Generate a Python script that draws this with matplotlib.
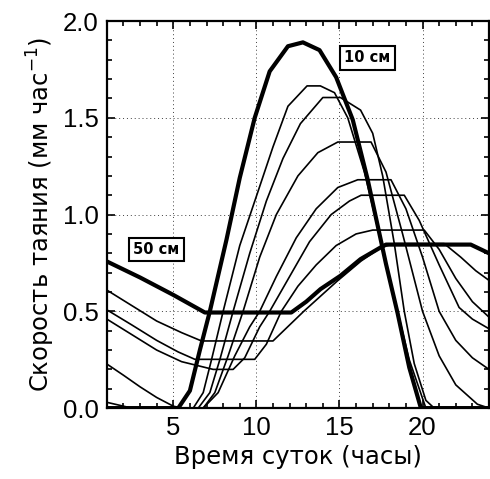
import numpy as np
import matplotlib
matplotlib.use("Agg")
import matplotlib.pyplot as plt
from matplotlib.ticker import MultipleLocator, FormatStrFormatter

plt.rcParams['font.family'] = ['DejaVu Sans']

# hour of day / melt rate (mm/h), one pair per depth
h10 = [1, 5.3, 6.0, 6.6, 7.2, 8.2, 9.0, 9.9, 10.8, 11.9, 12.8, 13.8, 14.8, 15.8, 16.7, 17.8, 18.5, 19.2, 19.9, 24]
v10 = [0, 0, 0.09, 0.30, 0.50, 0.87, 1.19, 1.50, 1.74, 1.87, 1.89, 1.85, 1.71, 1.49, 1.18, 0.745, 0.49, 0.21, 0, 0]

h15 = [1, 6.2, 6.8, 7.3, 8.0, 9.0, 10.1, 11.0, 11.9, 13.05, 13.85, 14.7, 15.5, 16.5, 17.5, 18.0, 18.5, 19.2, 20.2, 24]
v15 = [0, 0, 0.08, 0.25, 0.50, 0.84, 1.12, 1.35, 1.56, 1.665, 1.665, 1.63, 1.50, 1.22, 0.86, 0.68, 0.50, 0.25, 0, 0]

h20 = [1, 6.5, 7.2, 7.8, 8.6, 9.6, 10.6, 11.6, 12.65, 14.0, 15.06, 16.27, 17.0, 17.6, 18.3, 18.9, 19.5, 20.2, 20.7, 24]
v20 = [0, 0, 0.08, 0.25, 0.50, 0.80, 1.07, 1.29, 1.47, 1.605, 1.605, 1.54, 1.42, 1.20, 0.85, 0.50, 0.23, 0.04, 0, 0]

h25 = [1, 2.5, 6.8, 7.5, 8.3, 9.2, 10.2, 11.2, 12.5, 13.7, 14.9, 16.9, 17.8, 18.8, 20.0, 21.0, 22.0, 23.3, 24]
v25 = [0.03, 0, 0, 0.08, 0.27, 0.50, 0.78, 1.00, 1.20, 1.32, 1.375, 1.375, 1.22, 0.90, 0.50, 0.27, 0.12, 0.02, 0]

h30 = [1, 2, 3, 4, 5, 5.5, 6.8, 7.7, 8.7, 9.6, 10.2, 11.2, 12.4, 13.6, 14.9, 16.1, 18.1, 19.0, 20.0, 21.0, 22.0, 23.0, 24]
v30 = [0.228, 0.17, 0.11, 0.055, 0.01, 0, 0, 0.08, 0.27, 0.42, 0.50, 0.68, 0.88, 1.03, 1.14, 1.18, 1.18, 1.03, 0.78, 0.50, 0.35, 0.26, 0.20]

h35 = [1, 2.5, 4, 5.5, 7.4, 8.6, 9.3, 10.2, 10.8, 12.0, 13.2, 14.5, 15.6, 16.3, 18.9, 19.8, 21.0, 22.2, 23.0, 24]
v35 = [0.46, 0.38, 0.30, 0.24, 0.20, 0.20, 0.26, 0.42, 0.50, 0.68, 0.86, 1.00, 1.07, 1.10, 1.10, 0.97, 0.74, 0.52, 0.46, 0.41]

h40 = [1, 2.5, 4, 5.3, 6.3, 9.9, 10.6, 11.5, 12.5, 13.6, 14.8, 16.0, 17.0, 20.1, 21.0, 22.0, 23.0, 24]
v40 = [0.508, 0.43, 0.35, 0.29, 0.252, 0.252, 0.33, 0.50, 0.63, 0.74, 0.84, 0.90, 0.92, 0.92, 0.82, 0.67, 0.55, 0.47]

h45 = [1, 2.5, 4, 5.5, 6.7, 11.0, 12.85, 14.86, 16.3, 17.5, 18.3, 21.3, 22.3, 23.2, 24]
v45 = [0.61, 0.53, 0.45, 0.39, 0.347, 0.347, 0.50, 0.656, 0.76, 0.83, 0.85, 0.85, 0.78, 0.71, 0.66]

h50 = [1, 3, 5, 6.9, 12.1, 13.0, 13.86, 15.06, 16.27, 17.47, 17.8, 22.9, 24]
v50 = [0.758, 0.675, 0.585, 0.494, 0.494, 0.55, 0.615, 0.684, 0.77, 0.83, 0.845, 0.845, 0.80]

thin = [(h15, v15), (h20, v20), (h25, v25), (h30, v30), (h35, v35), (h40, v40), (h45, v45)]

fig = plt.figure(figsize=(4.9, 4.79), dpi=100)
ax = fig.add_axes([0.218, 0.148, 0.78, 0.808])

for h, v in thin:
    ax.plot(h, v, color='black', lw=1.2)
ax.plot(h10, v10, color='black', lw=3.0)
ax.plot(h50, v50, color='black', lw=3.0)

ax.set_xlim(1, 24)
ax.set_ylim(0, 2.0)
ax.xaxis.set_major_locator(MultipleLocator(5))
ax.xaxis.set_minor_locator(MultipleLocator(1))
ax.yaxis.set_major_locator(MultipleLocator(0.5))
ax.yaxis.set_minor_locator(MultipleLocator(0.1))
ax.yaxis.set_major_formatter(FormatStrFormatter('%.1f'))
ax.tick_params(which='both', direction='in', top=True, right=True, width=1.2)
ax.tick_params(which='major', length=6, labelsize=18.5, pad=6)
ax.tick_params(which='minor', length=3.5)
for lab in ax.get_xticklabels() + ax.get_yticklabels():
    lab.set_family('Liberation Sans')
for s in ax.spines.values():
    s.set_linewidth(1.6)
ax.grid(True, which='major', color='0.25', lw=0.7, linestyle=(0, (1, 3)))

ax.set_xlabel('Время суток (часы)', fontsize=17.5, labelpad=3)
ax.set_ylabel('Скорость таяния (мм час$^{-1}$)', fontsize=17.5, labelpad=4)

box = dict(boxstyle='square,pad=0.3', facecolor='white', edgecolor='black', lw=1.5)
ax.text(16.69, 1.81, '10 см', fontsize=10.5, fontweight='bold', ha='center', va='center', bbox=box)
ax.text(3.98, 0.82, '50 см', fontsize=10.5, fontweight='bold', ha='center', va='center', bbox=box)

fig.savefig('out.png', dpi=100)
